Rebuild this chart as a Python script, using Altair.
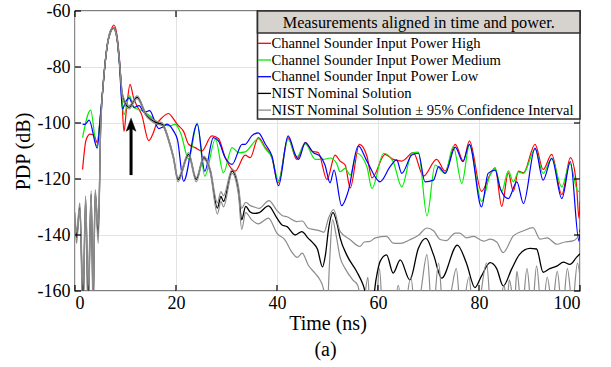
import altair as alt
import pandas as pd

# ---------------- data ----------------
red = [(1.5,-116.6),(2.2,-106),(3.0,-104),(3.8,-104.5),(4.4,-107),(5.0,-98),(5.5,-88),(6.0,-78),(6.5,-71),(7.0,-67.5),
       (7.7,-65),(8.3,-68.5),(8.8,-77),(9.2,-88),(9.7,-103),(10.2,-95),(10.9,-86.2),(11.6,-91),(12.3,-94),(13.2,-97),
       (14.6,-106.3),(15.4,-104),(16.0,-101),(17.3,-98),(18.5,-96.6),(19.5,-98.5),(20.3,-100.6),(21.5,-103),(22.5,-107.6),
       (23.8,-108.8),(25.1,-110),(27.1,-104.6),(28.4,-105.5),(29.75,-112.4),(31.7,-117.2),(33.7,-111.5),(34.7,-112.4),
       (36.3,-105.2),(37.7,-108.8),(39.0,-112.4),(40.2,-121.4),(42.2,-105.2),(43.9,-113),(45.6,-107),(46.9,-110),
       (48.2,-110.6),(49.9,-120.2),(51.5,-111.5),(52.5,-113.6),(53.5,-115),(54.5,-123.2),(56.3,-107.6),(57.8,-111.8),
       (58.8,-119.6),(61.4,-111.2),(63.0,-113),(64.7,-113.6),(67.0,-110.6),(69.0,-119),(71.6,-113),(73.3,-117.2),
       (75.3,-107.6),(76.9,-113.6),(78.1,-106.4),(80.5,-124.4),(82.2,-118.4),(83.2,-116),(84.5,-129.8),(85.8,-117.8),
       (86.8,-124.4),(87.8,-117.2),(88.8,-117.8),(91.1,-107.6),(92.7,-116.6),(94.4,-111.2),(96.4,-125.6),(98.1,-112.4),
       (99.3,-122),(99.8,-134),(100,-128)]

green = [(1.5,-105.2),(3.1,-95.4),(4.3,-108.3),(5.0,-98),(5.5,-88),(6.0,-78),(6.5,-71),(7.0,-67.5),(7.7,-66),(8.3,-69.5),
         (8.8,-79),(9.3,-92),(9.7,-97),(10.8,-90.2),(11.6,-94.5),(13.3,-95.6),(14.9,-97.5),(16.9,-100.4),(18.9,-101),
         (19.8,-100.4),(21.0,-104),(22.5,-112.9),(24.2,-100),(25.7,-119),(27.8,-105.8),(29.4,-117.8),(31.1,-108.8),
         (32.4,-110.6),(33.7,-110.3),(36.3,-105.7),(37.7,-109.2),(39.0,-112.4),(40.3,-120.6),(42.2,-105.9),(43.9,-112.2),
         (45.6,-107.5),(47.6,-113),(49.2,-113),(50.5,-112.5),(51.8,-114.4),(52.5,-117.4),(53.5,-116.2),(54.5,-118.6),
         (55.8,-110.8),(57.8,-115.6),(58.8,-123.4),(61.1,-110.8),(63.0,-113.8),(64.7,-122.8),(66.7,-110.8),(68.0,-110.4),
         (69.7,-133.2),(71.3,-115),(73.3,-118),(74.9,-108.4),(76.6,-121.6),(78.1,-107.8),(80.5,-128),(82.2,-118.6),
         (83.2,-116.2),(84.5,-124.5),(85.8,-117.1),(86.8,-121),(87.8,-117.5),(88.8,-118),(91.1,-109.3),(92.7,-118),
         (94.4,-112.6),(96.4,-122.8),(98.0,-114.4),(99.6,-124.5),(100,-124)]

blue = [(1.5,-100.4),(2.0,-100.5),(2.8,-99),(4.4,-109),(5.0,-98),(5.5,-88),(6.0,-78),(6.5,-71),(7.0,-67.5),(7.7,-66),
        (8.3,-69.5),(8.8,-79),(9.4,-95),(10.0,-92.5),(10.7,-91),(11.7,-94.4),(12.7,-93.8),(13.7,-96.2),(14.8,-95.6),
        (16.0,-100.4),(16.6,-102),(17.3,-101.5),(18.2,-100.4),(19.5,-102.8),(20.3,-106),(21.5,-120.8),(24.2,-100.4),
        (25.7,-117.2),(27.4,-105.2),(28.4,-106.4),(29.75,-112.4),(31.1,-114.8),(33.1,-107.6),(33.7,-107.6),(35.0,-104.6),
        (36.3,-103.5),(37.7,-107.6),(39.0,-111.8),(40.3,-122.4),(42.2,-104.6),(43.6,-111.2),(44.25,-113),(45.6,-107),
        (47.2,-110.6),(48.5,-111.8),(49.5,-115),(50.5,-121.4),(51.3,-116.8),(52.8,-129.5),(54.1,-124.4),(56.1,-108.2),
        (57.8,-113.6),(60.4,-121),(62.4,-115.6),(63.7,-113.2),(64.7,-118),(66.7,-111.4),(68.0,-110.8),(69.3,-121),
        (71.0,-120.4),(72.0,-115.6),(73.3,-118),(75.3,-108.6),(76.8,-113.8),(78.1,-107.6),(80.5,-130),(81.8,-118),
        (83.2,-116.8),(84.2,-123.4),(85.8,-127),(87.5,-121),(88.8,-128.8),(91.1,-109),(92.7,-120.4),(94.4,-112.6),
        (96.4,-127),(98.1,-113.8),(99.8,-142.2),(100,-138)]

nominal = [(0,-134),(0.3,-141),(0.95,-130),(1.6,-165),(2.1,-127.3),(2.6,-165),(3.2,-125.5),(3.6,-165),(4.0,-125),
           (4.6,-140),(5.1,-100.5),(5.5,-88),(6.0,-78),(6.5,-71),(7.0,-67.5),(7.6,-66),(8.3,-69.5),(8.8,-78),(9.4,-90.2),
           (10.7,-94.4),(12.3,-90.8),(14.0,-96.8),(16.0,-99.8),(17.3,-100.5),(18.5,-105.8),(19.5,-112.4),(20.4,-120.2),
           (22.5,-111.2),(24.0,-120.2),(25.5,-112.4),(26.8,-117.2),(28.2,-130.4),(28.9,-126.2),(29.4,-128),(31.1,-117.2),
           (32.4,-124.4),(33.0,-134.6),(33.8,-129.8),(34.7,-131.8),(35.5,-132.3),(36.5,-132),(38.3,-129.6),(40.0,-134),
           (41.0,-136.4),(42.0,-137),(43.6,-140),(44.9,-138.8),(46.2,-141.2),(47.2,-143),(48.0,-145),(49.0,-151.4),
           (49.6,-147),(50.2,-138),(51.1,-132),(51.9,-136),(52.5,-141),(53.8,-147.1),(55.8,-153.1),(57.1,-158),
           (58.0,-163),(59.0,-163),(59.6,-156),(60.4,-149.5),(61.7,-147.1),(63.0,-153.6),(64.4,-148.9),(66.3,-156),
           (68.0,-144.7),(69.5,-141.2),(71.0,-147.1),(72.6,-155.4),(75.7,-143.6),(77.5,-150),(79.2,-158.8),(80.5,-154.6),
           (82.2,-149.9),(83.5,-152),(84.8,-158.2),(86.5,-152),(88.0,-147),(90.1,-144.8),(91.4,-145),(92.7,-153.3),
           (94.0,-152),(95.5,-151),(96.7,-149.7),(98.0,-150.5),(99.3,-148),(100,-146.7)]

ci_upper = [(0,-132),(0.3,-139),(0.95,-128.5),(1.6,-158),(2.1,-126),(2.6,-158),(3.2,-124.2),(3.6,-160),(4.0,-123.8),
            (4.6,-137),(5.1,-99.5),(5.5,-87.5),(6.0,-77.5),(6.5,-70.5),(7.0,-67),(7.6,-65.8),(8.3,-69),(8.8,-77.5),
            (9.4,-89.5),(10.7,-93.8),(12.3,-90.3),(14.0,-96.3),(16.0,-99.3),(17.3,-100),(18.5,-105.3),(19.5,-111.8),
            (20.4,-119.5),(22.5,-110.6),(24.0,-119.5),(25.5,-111.8),(26.8,-116.5),(28.2,-128.5),(28.9,-124.5),
            (29.4,-126),(31.1,-116.5),(32.4,-123),(33.0,-130.5),(33.8,-128.3),(34.7,-129.5),(35.5,-130),(36.5,-130.5),
            (38.4,-127.7),(40.0,-131.3),(41.0,-133),(42.0,-133.5),(43.9,-135.2),(45.0,-135),(46.2,-137.6),(47.2,-138),
            (48.5,-138.5),(49.3,-139),(50.2,-134),(51.2,-130.9),(52.5,-138.7),(54.5,-141.7),(56.4,-144.1),(57.3,-142.5),
            (58.4,-142.3),(59.5,-141),(61.7,-140.5),(63.0,-142.9),(64.4,-143),(66.3,-141.7),(68.0,-140.1),(69.7,-137.5),
            (71.0,-138.5),(72.3,-141.6),(73.5,-142),(75.3,-139.3),(76.2,-139.3),(77.5,-141),(78.9,-140.5),(80.9,-142.2),
            (82.2,-141.5),(83.5,-142.5),(84.8,-146.3),(86.8,-140.3),(88.8,-138.5),(90.7,-137.4),(92.1,-141.5),
            (93.5,-141),(95.4,-143.3),(97.0,-142.5),(98.6,-142.1),(99.8,-140),(100,-139)]

ci_lower = [(0,-135),(0.3,-143),(0.95,-131),(1.6,-172),(2.1,-128.5),(2.6,-172),(3.2,-126.5),(3.6,-172),(4.0,-126),
            (4.6,-143),(5.1,-101),(5.5,-88.5),(6.0,-78.5),(6.5,-71.5),(7.0,-68),(7.6,-66.3),(8.3,-70),(8.8,-78.5),
            (9.4,-91),(10.7,-95),(12.3,-91.3),(14.0,-97.3),(16.0,-100.3),(17.3,-101),(18.5,-106.3),(19.5,-113),
            (20.4,-121),(22.5,-111.8),(24.0,-121),(25.5,-113),(26.8,-118),(28.2,-132.5),(28.9,-128),(29.4,-130),
            (31.1,-118),(32.4,-126),(33.0,-138),(33.8,-132),(35.0,-134.6),(36.3,-136),(38.3,-134),(40.0,-139.4),
            (41.6,-141.8),(42.9,-146),(44.0,-148),(45.0,-146.5),(46.2,-150.8),(47.6,-153.8),(48.5,-156),(49.2,-159.2),
            (49.8,-172),(50.4,-150),(51.0,-134.5),(51.7,-140),(52.5,-148),(53.5,-152),(55.0,-156),(56.0,-158),
            (57.0,-166),(58.0,-155),(58.5,-170),(59.5,-168),(60.3,-152),(61.0,-170),(62.0,-162),(63.0,-170),
            (64.0,-158),(65.0,-170),(66.5,-155),(67.5,-170),(68.5,-160),(69.7,-147),(70.8,-170),(72.0,-150),
            (73.0,-170),(74.5,-160),(75.5,-152),(76.5,-170),(78.0,-155),(79.0,-170),(80.0,-165),(81.5,-150),
            (82.5,-170),(84.0,-165),(85.0,-158),(85.5,-166),(86.0,-156),(87.0,-165),(87.5,-153),(88.5,-168),
            (89.5,-152),(90.5,-168),(91.4,-151),(92.5,-170),(93.5,-155),(94.5,-165),(95.5,-153),(96.5,-168),
            (97.5,-152),(98.5,-165),(99.5,-150),(100,-155)]

x_ticks = [0, 20, 40, 60, 80, 100]
y_ticks = [-160, -140, -120, -100, -80, -60]

arrow_t = [11.1]
arrow_tail = [-118.6]
arrow_head = [-100.6]

legend_title = "Measurements aligned in time and power."
legend_labels = ["Channel Sounder Input Power High", "Channel Sounder Input Power Medium",
                 "Channel Sounder Input Power Low", "NIST Nominal Solution",
                 "NIST Nominal Solution \u00b1 95% Confidence Interval"]
legend_colors = ["#ff0000", "#00ee00", "#0000ff", "#000000", "#8c8c8c"]

# ---------------- chart ----------------
W, H = 505, 280
FONT = "Liberation Serif"

xs = alt.Scale(domain=[0, 100], nice=False)
ys = alt.Scale(domain=[-160, -60], nice=False)
axis_style = dict(domain=False, ticks=False, grid=True, gridColor="#e3e3e3", gridWidth=1,
                  labelFont=FONT, labelFontSize=18, labelColor="black",
                  titleFont=FONT, titleFontSize=20, titleFontWeight="normal", titleColor="black")
x_axis = alt.Axis(values=x_ticks, title="Time (ns)", labelPadding=3, titlePadding=1, **axis_style)
y_axis = alt.Axis(values=y_ticks, title="PDP (dB)", labelExpr="'' + datum.value",
                  labelPadding=5, titlePadding=4, **axis_style)


def X(field):
    return alt.X(field, scale=xs, axis=x_axis)


def Y(field):
    return alt.Y(field, scale=ys, axis=y_axis)


def df(pts):
    return pd.DataFrame(pts, columns=["t", "v"])


def line(pts, color, width):
    return alt.Chart(df(pts)).mark_line(color=color, strokeWidth=width, clip=True,
                                        interpolate="monotone").encode(x=X("t:Q"), y=Y("v:Q"))


layers = [
    line(red, "#ff0000", 1.2),
    line(green, "#00ee00", 1.2),
    line(blue, "#0000ff", 1.2),
    line(nominal, "#000000", 1.3),
    line(ci_upper, "#8c8c8c", 1.2),
    line(ci_lower, "#8c8c8c", 1.2),
]

xt = pd.DataFrame({"t": x_ticks})
yt = pd.DataFrame({"v": y_ticks})
tick_len = 6
layers += [
    alt.Chart(xt).mark_rule(color="black", strokeWidth=1.2).encode(
        x=X("t:Q"), y=alt.value(H), y2=alt.value(H - tick_len)),
    alt.Chart(xt).mark_rule(color="black", strokeWidth=1.2).encode(
        x=X("t:Q"), y=alt.value(0), y2=alt.value(tick_len)),
    alt.Chart(yt).mark_rule(color="black", strokeWidth=1.2).encode(
        y=Y("v:Q"), x=alt.value(0), x2=alt.value(tick_len)),
    alt.Chart(yt).mark_rule(color="black", strokeWidth=1.2).encode(
        y=Y("v:Q"), x=alt.value(W), x2=alt.value(W - tick_len)),
]

arrow_df = pd.DataFrame({"t": arrow_t, "tail": arrow_tail, "head": arrow_head})
layers += [
    alt.Chart(arrow_df).mark_rule(color="black", strokeWidth=3).encode(
        x=X("t:Q"), y=Y("tail:Q"), y2="head:Q"),
    alt.Chart(arrow_df).mark_point(shape="M0,-1L0.75,1L0,0.55L-0.75,1Z", filled=True, fill="black",
                                   stroke="black", strokeWidth=0.5, size=170, opacity=1).encode(
        x=X("t:Q"), y=Y("head:Q")),
]

# legend (drawn in plot-area pixel space)
LX0, LX1, LY0 = 182.5, W, 0
row_h = 16.7
title_h = 22
LY1 = title_h + row_h * len(legend_labels) + 2.5
one = alt.Data(values=[{}])
layers += [
    alt.Chart(one).mark_rect(fill="white", stroke="#303030", strokeWidth=1.6).encode(
        x=alt.value(LX0), x2=alt.value(LX1), y=alt.value(LY0), y2=alt.value(LY1)),
    alt.Chart(one).mark_rect(fill="#d6d3ce", stroke="#303030", strokeWidth=1.6).encode(
        x=alt.value(LX0), x2=alt.value(LX1), y=alt.value(LY0), y2=alt.value(title_h)),
    alt.Chart(one).mark_text(text=legend_title, font=FONT, fontSize=16.3, color="black",
                             align="center", baseline="middle").encode(
        x=alt.value((LX0 + LX1) / 2), y=alt.value(title_h / 2 + 0.5)),
]
for i, (lab, col) in enumerate(zip(legend_labels, legend_colors)):
    yc = title_h + 10.3 + i * row_h
    layers += [
        alt.Chart(one).mark_rule(color=col, strokeWidth=1.3).encode(
            x=alt.value(LX0 + 0.5), x2=alt.value(LX0 + 13.5), y=alt.value(yc)),
        alt.Chart(one).mark_text(text=lab, font=FONT, fontSize=14.6, color="black",
                                 align="left", baseline="middle").encode(
            x=alt.value(LX0 + 14), y=alt.value(yc + 0.5)),
    ]

layers.append(
    alt.Chart(one).mark_text(text="(a)", font=FONT, fontSize=20, color="black",
                             align="center", baseline="middle").encode(
        x=alt.value(W / 2 - 2), y=alt.value(339))
)

chart = alt.layer(*layers).properties(
    width=W, height=H,
    background="white",
    autosize=alt.AutoSizeParams(type="none"),
    padding={"left": 75, "top": 11, "right": 31, "bottom": 76},
).configure_view(
    stroke="black", strokeWidth=1.3
)

chart.save("out.html", embed_options={"renderer": "svg", "actions": False})
